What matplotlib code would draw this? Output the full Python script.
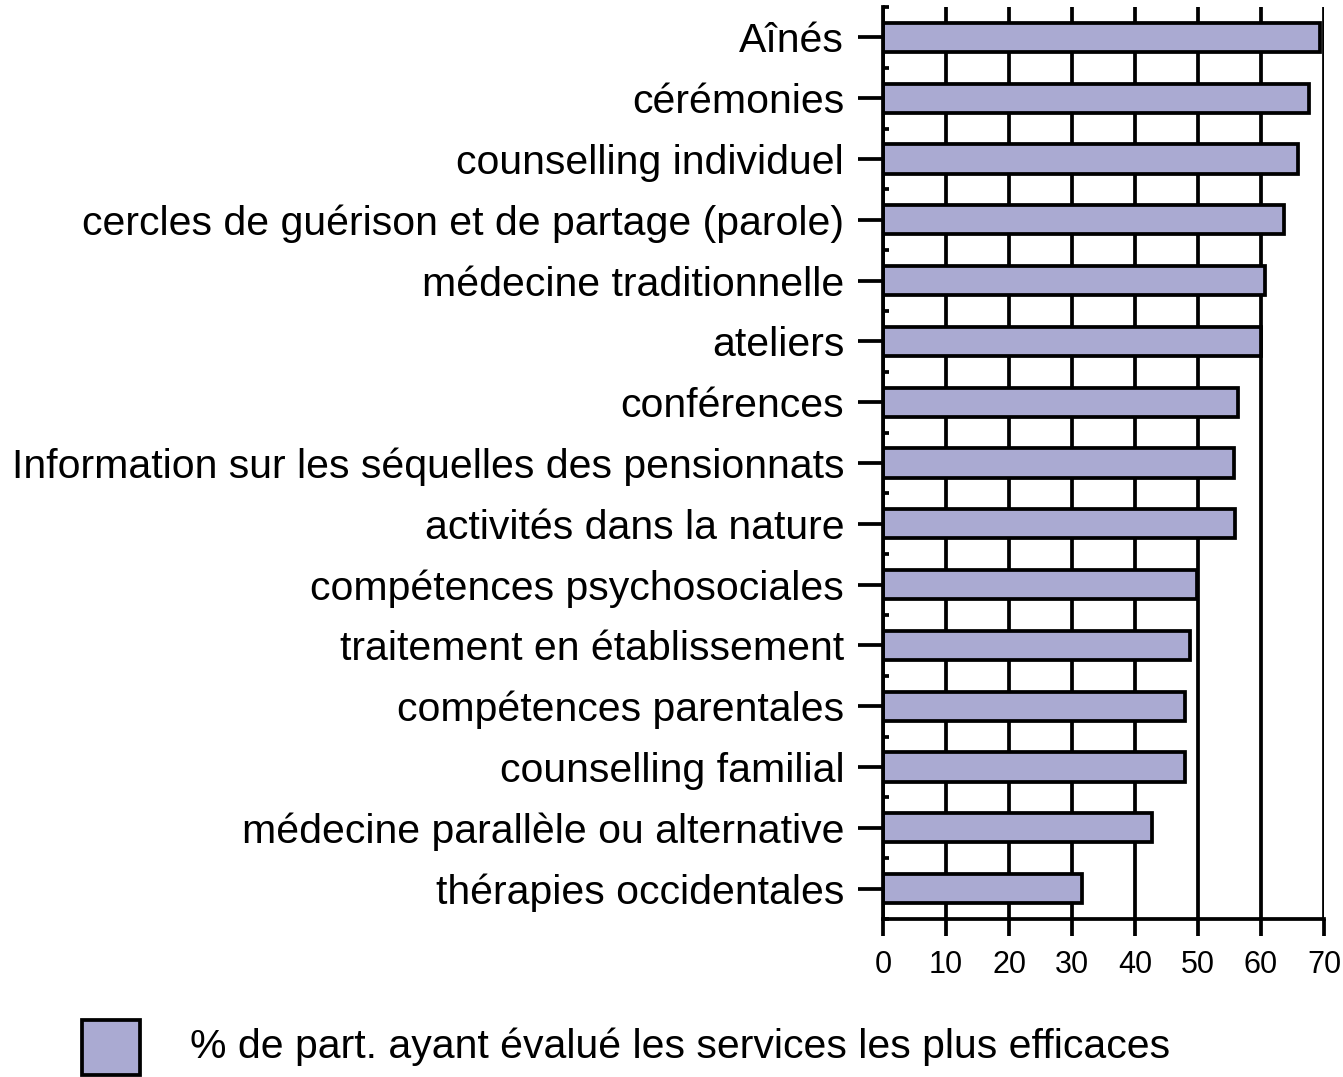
import matplotlib
matplotlib.use("Agg")
import matplotlib.pyplot as plt
from matplotlib.patches import Rectangle
from matplotlib.ticker import FixedLocator

plt.rcParams['font.family'] = ['Liberation Sans', 'DejaVu Sans']

# services (top to bottom) and % of participants rating them most effective
services = ["Aînés", "cérémonies", "counselling individuel",
            "cercles de guérison et de partage (parole)",
            "médecine traditionnelle", "ateliers", "conférences",
            "Information sur les séquelles des pensionnats",
            "activités dans la nature", "compétences psychosociales",
            "traitement en établissement", "compétences parentales",
            "counselling familial", "médecine parallèle ou alternative",
            "thérapies occidentales"]
pct = [69.3, 67.6, 65.8, 63.7, 60.6, 60.0, 56.4, 55.7, 55.8,
       49.8, 48.7, 48.0, 48.0, 42.7, 31.6]
xticks = [0, 10, 20, 30, 40, 50, 60, 70]
legend_label = "% de part. ayant évalué les services les plus efficaces"

fill = "#aaaad2"
lw = 2.7

fig = plt.figure(figsize=(13.43, 10.77), dpi=100)
ax = fig.add_axes([0.6575, 0.1467, 0.9859 - 0.6575, 0.9935 - 0.1467])

ypos = list(range(len(services)))
ax.barh(ypos, pct, height=0.48, color=fill, edgecolor="black",
        linewidth=lw, zorder=3)

ax.set_xlim(0, 70)
ax.set_ylim(len(services) - 0.5, -0.5)

ax.set_yticks(ypos)
ax.set_yticklabels(services, fontsize=29.5)
ax.yaxis.set_minor_locator(FixedLocator([i - 0.5 for i in range(len(services) + 1)]))
ax.tick_params(axis="y", which="major", length=18, width=lw, pad=10)
ax.tick_params(axis="y", which="minor", direction="in", length=4, width=lw)

ax.set_xticks(xticks)
ax.set_xticklabels([str(v) for v in xticks], fontsize=22)
ax.tick_params(axis="x", length=12, width=lw, pad=10)

ax.grid(axis="x", color="black", linewidth=lw, zorder=1)
ax.set_axisbelow(True)

for s in ["top", "right"]:
    ax.spines[s].set_visible(False)
for s in ["left", "bottom"]:
    ax.spines[s].set_linewidth(lw)
    ax.spines[s].set_zorder(4)

# legend key
fig.patches.append(Rectangle((82 / 1343, 1 - 1075 / 1077), 58 / 1343, 55 / 1077,
                             transform=fig.transFigure, facecolor=fill,
                             edgecolor="black", linewidth=lw))
fig.text(190 / 1343, 1 - 1047 / 1077, legend_label, fontsize=29.5, va="center")

fig.savefig("out.png", dpi=100)
